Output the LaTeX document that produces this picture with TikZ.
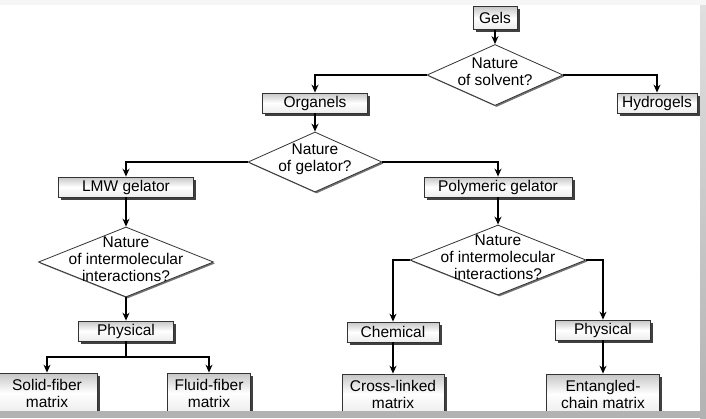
\documentclass[tikz,border=0pt]{standalone}
\usepackage{fontspec}
\setmainfont{Liberation Sans}
\usetikzlibrary{shapes.geometric,arrows.meta,shadows}

\begin{document}
\begin{tikzpicture}[x=1pt, y=-1pt,
    box/.style={draw=black!80, line width=0.8pt,
        top color=gray!45, bottom color=gray!15, middle color=white,
        drop shadow={shadow xshift=2.5pt, shadow yshift=-2.5pt, fill=black!75, opacity=1},
        inner sep=0pt, align=center, font=\fontsize{15.5}{17}\selectfont},
    decision/.style={diamond, draw=black!80, line width=0.8pt, fill=white, inner sep=0pt,
        drop shadow={shadow xshift=1.5pt, shadow yshift=-1.5pt, fill=black!55, opacity=1}},
    qtext/.style={align=center, inner sep=0pt, yshift=3pt, font=\fontsize{15.5}{17}\selectfont},
    arr/.style={-{Stealth[length=8pt,width=7pt]}, line width=1.2pt}]

    \useasboundingbox (0,0) rectangle (706,418);

    % Fondo
    \fill[gray!7] (0,0) rectangle (706,418);
    \fill[white] (0,5) rectangle (700,411);

    % Gels
    \node[box, minimum width=44, minimum height=23] (gels) at (495,18) {Gels};
    \node[decision, minimum width=136, minimum height=61] (q1) at (495,75) {};
    \node[qtext] (q1t) at (q1) {Nature\\of solvent?};
    \node[box, minimum width=105, minimum height=20] (org) at (315,103) {Organels};
    \node[box, minimum width=80, minimum height=20] (hyd) at (657,103) {Hydrogels};

    % Gelador
    \node[decision, minimum width=134, minimum height=60] (q2) at (315,162) {};
    \node[qtext] (q2t) at (q2) {Nature\\of gelator?};
    \node[box, minimum width=135, minimum height=20] (lmw) at (126,187) {LMW gelator};
    \node[box, minimum width=148, minimum height=20] (poly) at (498,187) {Polymeric gelator};

    % Interacciones
    \node[decision, minimum width=175, minimum height=70] (q3) at (126,262) {};
    \node[qtext] (q3t) at (q3) {Nature\\of intermolecular\\interactions?};
    \node[decision, minimum width=176, minimum height=70] (q4) at (498,260) {};
    \node[qtext] (q4t) at (q4) {Nature\\of intermolecular\\interactions?};

    \node[box, minimum width=95, minimum height=20] (phys1) at (126,331) {Physical};
    \node[box, minimum width=92, minimum height=20] (chem) at (393,332) {Chemical};
    \node[box, minimum width=95, minimum height=20] (phys2) at (603,330) {Physical};

    % Matrices
    \node[box, minimum width=100, minimum height=40] (solid) at (47,393) {Solid-fiber\\matrix};
    \node[box, minimum width=83, minimum height=40] (fluid) at (209,393) {Fluid-fiber\\matrix};
    \node[box, minimum width=102, minimum height=40] (cross) at (393,394) {Cross-linked\\matrix};
    \node[box, minimum width=113, minimum height=40] (ent) at (603,394) {Entangled-\\chain matrix};

    % Conectores
    \draw[arr] (gels) -- (q1);
    \draw[arr] (q1.west) -| (org);
    \draw[arr] (q1.east) -| (hyd);
    \draw[arr] (org) -- (q2);
    \draw[arr] (q2.west) -| (lmw);
    \draw[arr] (q2.east) -| (poly);
    \draw[arr] (lmw) -- (q3);
    \draw[arr] (poly) -- (q4);
    \draw[arr] (q3.south) -- (phys1);
    \coordinate (split) at (126,357);
    \draw[line width=1.2pt] (phys1) -- (split);
    \draw[arr] (split) -| (solid);
    \draw[arr] (split) -| (fluid);
    \draw[arr] (q4.west) -| (chem);
    \draw[arr] (q4.east) -| (phys2);
    \draw[arr] (chem) -- (cross);
    \draw[arr] (phys2) -- (ent);

    % Borde
    \shade[top color=gray!25, bottom color=gray!60] (700,5) rectangle (706,418);
    \fill[gray!60] (0,411) rectangle (706,418);

\end{tikzpicture}
\end{document}
